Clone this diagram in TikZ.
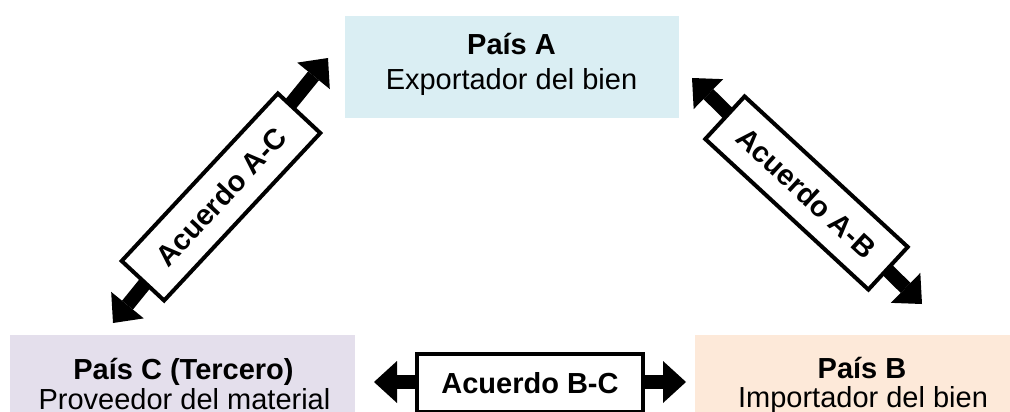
\documentclass[tikz,border=0pt]{standalone}
\usepackage{fontspec}
\setmainfont{Liberation Sans}
\usetikzlibrary{arrows.meta}
\definecolor{colA}{HTML}{DAEEF3}
\definecolor{colB}{HTML}{FDE9D9}
\definecolor{colC}{HTML}{E4DFEC}
\tikzset{
  country/.style={inner sep=0pt, outer sep=0pt},
  ctext/.style={anchor=base, inner sep=0pt, font=\fontsize{29}{34}\selectfont},
  ctitle/.style={anchor=base, inner sep=0pt, font=\fontsize{29}{34}\selectfont\bfseries},
  agbox/.style={draw=black, line width=4pt, fill=white, minimum height=58pt, inner sep=0pt, font=\fontsize{29}{34}\selectfont\bfseries},
  bigarrow/.style={line width=14pt, {Triangle[length=23pt,width=42pt,line width=0pt]}-{Triangle[length=23pt,width=42pt,line width=0pt]}}
}
\begin{document}
\begin{tikzpicture}[x=1pt,y=-1pt]
\useasboundingbox (0,0) rectangle (1010,412);
\clip (0,0) rectangle (1010,412);
% country boxes
\node[country, fill=colA, minimum width=334pt, minimum height=102pt] (A) at (511.5,67) {};
\node[country, fill=colC, minimum width=345pt, minimum height=105pt] (C) at (182.5,387.5) {};
\node[country, fill=colB, minimum width=335pt, minimum height=105pt] (B) at (862.5,387.5) {};
\node[ctitle] (Aname) at (511.5,55) {País A};
\node[ctext] (Adesc) at (511.5,89) {Exportador del bien};
\node[ctitle] (Cname) at (183.5,379) {País C (Tercero)};
\node[ctext] (Cdesc) at (184.5,409) {Proveedor del material};
\node[ctitle] (Bname) at (862,378) {País B};
\node[ctext] (Bdesc) at (863,407) {Importador del bien};
% arrow end points
\coordinate (acC) at (113,323);
\coordinate (acA) at (328,58);
\coordinate (abA) at (692,78);
\coordinate (abB) at (922,304);
\coordinate (bcC) at (374,382);
\coordinate (bcB) at (686,382);
\draw[bigarrow] (acC) -- (acA);
\draw[bigarrow] (abA) -- (abB);
\draw[bigarrow] (bcC) -- (bcB);
% agreement boxes
\node[agbox, minimum width=229pt, rotate=47] (AC) at (221,197) {Acuerdo A-C};
\node[agbox, minimum width=222pt, rotate=-42.7] (AB) at (806.5,193) {Acuerdo A-B};
\node[agbox, minimum width=226pt] (BC) at (530,383) {Acuerdo B-C};
\end{tikzpicture}
\end{document}
